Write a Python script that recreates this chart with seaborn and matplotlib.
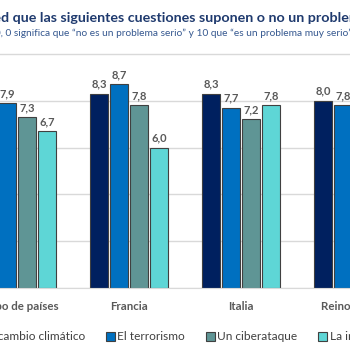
import numpy as np
import pandas as pd
import matplotlib
matplotlib.use('Agg')
import matplotlib.pyplot as plt
from matplotlib.patches import Patch
import seaborn as sns

# datos (la imagen es un recorte: lo que queda fuera se deja vacío)
categorias = ["Grupo de países", "Francia", "Italia", "Reino Unido"]
cambio_climatico = [np.nan, 8.3, 8.3, 8.0]
terrorismo = [7.9, 8.7, 7.7, 7.8]
ciberataque = [7.3, 7.8, 7.2, np.nan]
inmigracion = [6.7, 6.0, 7.8, np.nan]
series = ["El cambio climático", "El terrorismo", "Un ciberataque", "La inmigración"]
colores = ["#00205F", "#0070C0", "#5F9595", "#5ED6D6"]

titulo = "¿Cree usted que las siguientes cuestiones suponen o no un problema serio?"
subtitulo = "Escala de 0 a 10, 0 significa que “no es un problema serio” y 10 que “es un problema muy serio”"

W, H = 350, 350


def main():
    sns.set_style("white")
    plt.rcParams['font.family'] = ['Lato', 'DejaVu Sans']

    df = pd.DataFrame({
        "categoria": categorias * 4,
        "serie": np.repeat(series, len(categorias)),
        "valor": cambio_climatico + terrorismo + ciberataque + inmigracion,
    })

    fig = plt.figure(figsize=(W / 100, H / 100), dpi=100)
    # ejes más anchos que la figura para reproducir el recorte
    left, right = 17 - 56, 17 + 112 * 3.5
    bottom, top = H - 288, H - 53
    ax = fig.add_axes([left / W, bottom / H, (right - left) / W, (top - bottom) / H])

    sns.barplot(data=df, x="categoria", y="valor", hue="serie", order=categorias,
                hue_order=series, palette=colores, saturation=1, width=0.714, gap=0.1,
                edgecolor="#404040", linewidth=0.8, legend=False, ax=ax)

    for c in ax.containers:
        ax.bar_label(c, fmt=lambda v: "" if np.isnan(v) else f"{v:.1f}".replace(".", ","),
                     padding=3, fontsize=8, fontweight="bold", color="#595959")

    ax.set_xlim(-0.5, 3.5)
    ax.set_ylim(0, 10.04)
    ax.set_yticks([0, 2, 4, 6, 8, 10])
    ax.set_yticklabels([])
    ax.grid(axis='y', color="#D9D9D9", linewidth=1)
    ax.set_axisbelow(True)
    ax.set_xlabel("")
    ax.set_ylabel("")
    for s in ["top", "left", "right"]:
        ax.spines[s].set_visible(False)
    ax.spines["bottom"].set_color("#D9D9D9")
    ax.tick_params(axis='both', length=0)
    ax.tick_params(axis='x', pad=9, labelsize=8.3, labelcolor="#595959")
    for t in ax.get_xticklabels():
        t.set_fontweight("bold")

    # título y subtítulo recortados por la izquierda
    r = fig.canvas.get_renderer()

    def texto_cortado(full, prefijo, x_px, y_px, **kw):
        tmp = fig.text(0, 0, prefijo, **kw)
        w = tmp.get_window_extent(r).width
        tmp.remove()
        fig.text((x_px - w) / W, 1 - y_px / H, full, ha='left', va='center', **kw)

    texto_cortado(titulo, "¿Cree uste", 1, 18, fontsize=10.25, fontweight="bold", color="#1F3A6E")
    texto_cortado(subtitulo, "Escala de 0 a 10", 1, 33, fontsize=7.25, color="#34578F")

    handles = [Patch(facecolor=c, edgecolor="#404040", linewidth=0.8) for c in colores]
    fig.legend(handles, series, loc='center left', bbox_to_anchor=(-27 / W, 13 / H),
               ncol=4, frameon=False, fontsize=8.6, handlelength=0.8, handleheight=0.8,
               handletextpad=0.2, columnspacing=1.7, borderaxespad=0, borderpad=0,
               labelcolor="#404040")

    fig.savefig("out.png", dpi=100)
    plt.close(fig)


if __name__ == "__main__":
    main()
